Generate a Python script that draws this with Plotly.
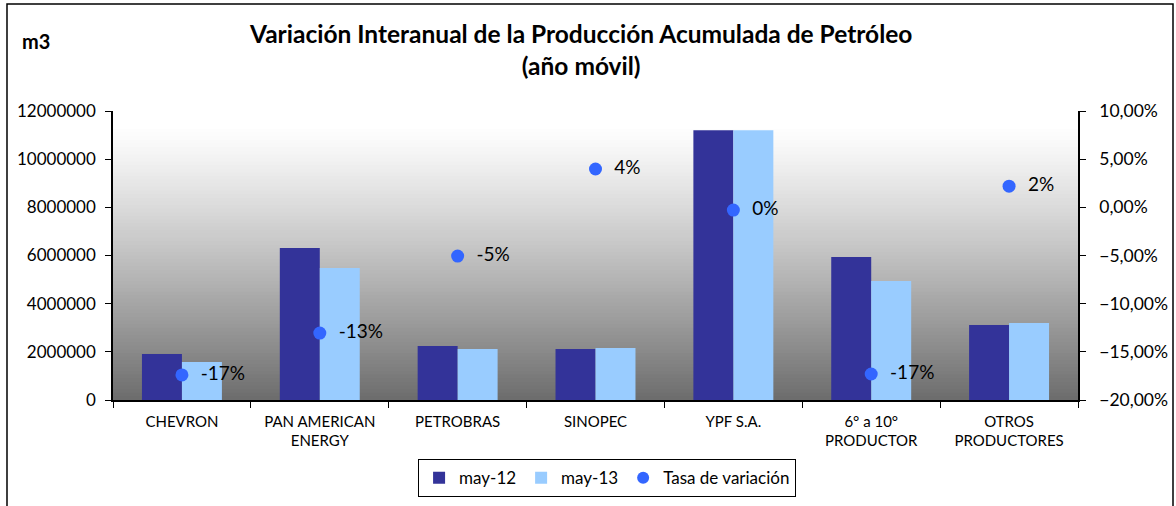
import plotly.graph_objects as go

categories = ["CHEVRON", "PAN AMERICAN<br>ENERGY", "PETROBRAS", "SINOPEC", "YPF S.A.",
              "6° a 10°<br>PRODUCTOR", "OTROS<br>PRODUCTORES"]
may12 = [1910000, 6310000, 2240000, 2120000, 11200000, 5940000, 3110000]
may13 = [1580000, 5480000, 2120000, 2160000, 11200000, 4940000, 3200000]
tasa = [-17.4, -13.05, -5.06, 3.98, -0.28, -17.3, 2.2]
tasa_labels = ["\u00a0\u00a0%d%%" % round(v) for v in tasa]

FONT = "Lato"

fig = go.Figure()
fig.add_trace(go.Bar(x=categories, y=may12, name="may-12", marker_color="#333399",
                     marker_line_width=0))
fig.add_trace(go.Bar(x=categories, y=may13, name="may-13", marker_color="#99ccff",
                     marker_line_width=0))
fig.add_trace(go.Scatter(x=categories, y=tasa, name="Tasa de variación", yaxis="y2",
                         mode="markers+text", text=tasa_labels, textposition="middle right",
                         textfont=dict(size=19, color="black", family=FONT),
                         marker=dict(size=13, color="#3366ff")))

# gradient background for plot area
shapes = []
n = 80
for i in range(n):
    t = (i + 0.5) / n  # 0 at top, 1 at bottom
    f = max(0.0, (t - 0.05) / 0.95) ** 1.15
    c = int(round(255 - (255 - 108) * f))
    shapes.append(dict(type="rect", xref="x domain", yref="y domain",
                       x0=0, x1=1, y0=max(0, 1 - (i + 1) / n - 0.006), y1=1 - i / n,
                       fillcolor="rgb(%d,%d,%d)" % (c, c, c), line_width=0, layer="below"))
# outer border (no bottom edge)
shapes.append(dict(type="path", xref="paper", yref="paper",
                   path="M %f %f L %f %f L %f %f L %f %f" % (
                       (7 - 113) / 965, (400 - 520) / 289,
                       (7 - 113) / 965, (400 - 4) / 289,
                       (1173 - 113) / 965, (400 - 4) / 289,
                       (1173 - 113) / 965, (400 - 520) / 289),
                   line=dict(color="black", width=1.5)))

fig.update_layout(
    width=1176, height=506,
    margin=dict(l=113, r=98, t=111, b=106, autoexpand=False),
    paper_bgcolor="white", plot_bgcolor="white",
    font=dict(family=FONT, size=15, color="black"),
    barmode="group", bargap=0.42, bargroupgap=0,
    separators=",.",
    shapes=shapes,
    showlegend=True,
    legend=dict(orientation="h", x=0.512, xanchor="center", y=-0.205, yanchor="top",
                bordercolor="black", borderwidth=1, font=dict(size=17, family=FONT),
                itemsizing="constant", traceorder="normal"),
    xaxis=dict(showline=True, linecolor="black", linewidth=1.5, ticks="outside",
               tickson="boundaries", ticklen=6, tickcolor="black", tickfont=dict(size=15),
               showgrid=False, automargin=False, ticklabelstandoff=7),
    yaxis=dict(range=[0, 12000000], dtick=2000000, tickformat="d", showline=True,
               linecolor="black", linewidth=1.5, ticks="outside", ticklen=6,
               tickcolor="black", showgrid=False, zeroline=False, tickfont=dict(size=17),
               automargin=False, ticklabelstandoff=6),
    yaxis2=dict(range=[-20, 10], dtick=5, tickformat=".2f", ticksuffix="%",
                overlaying="y", side="right", showline=True, linecolor="black",
                linewidth=1.5, ticks="outside", ticklen=6, tickcolor="black",
                showgrid=False, zeroline=False, tickfont=dict(size=17.5), automargin=False,
                ticklabelstandoff=10),
    annotations=[
        dict(text="<b>Variación Interanual de la Producción Acumulada de Petróleo<br>(año móvil)</b>",
             xref="paper", yref="paper", x=(580 - 113) / 965, y=(400 - 49) / 289,
             xanchor="center", yanchor="middle", showarrow=False,
             font=dict(size=24.5, family=FONT, color="black")),
        dict(text="<b>m3</b>", xref="paper", yref="paper", x=(20 - 113) / 965,
             y=(400 - 41) / 289, xanchor="left", yanchor="middle", showarrow=False,
             font=dict(size=20, family=FONT, color="black")),
    ],
)

fig.write_html("out.html", config={"displayModeBar": False},
               post_script="document.body.style.margin='0';document.body.style.overflow='hidden';")
